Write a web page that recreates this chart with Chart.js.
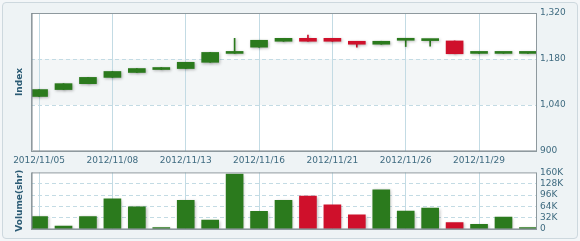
<!DOCTYPE html>
<html>
<head>
<meta charset="utf-8">
<script src="https://cdn.jsdelivr.net/npm/chart.js@4"></script>
<style>
  html, body { margin: 0; padding: 0; background: #f3f6f8; }
  #wrap { position: relative; width: 580px; height: 241px; overflow: hidden; }
  #frame { position: absolute; left: 2px; top: 2px; width: 574px; height: 235px;
           border: 1px solid #cdd8de; border-radius: 4px; background: #eef3f5; }
  .box { position: absolute; left: 0; }
</style>
</head>
<body>
<div id="wrap">
  <div id="frame"></div>
  <div class="box" style="top:0"><canvas id="price" width="580" height="170"></canvas></div>
  <div class="box" style="top:163px"><canvas id="vol" width="580" height="78"></canvas></div>
</div>
<script>
const dates = ['2012/11/05','2012/11/06','2012/11/07','2012/11/08','2012/11/09','2012/11/12','2012/11/13',
  '2012/11/14','2012/11/15','2012/11/16','2012/11/19','2012/11/20','2012/11/21','2012/11/22','2012/11/23',
  '2012/11/26','2012/11/27','2012/11/28','2012/11/29','2012/11/30','2012/12/03']
const open  = [1066,1087,1105,1124,1139,1148,1151,1170,1197,1216,1234,1243,1243,1234,1225,1237,1236,1235,1197,1197,1197]
const close = [1087,1105,1124,1142,1151,1154,1170,1200,1197,1237,1243,1234,1234,1225,1234,1237,1236,1196,1197,1197,1197]
const high  = [1087,1105,1124,1142,1151,1154,1170,1200,1243,1237,1243,1253,1243,1234,1234,1237,1236,1235,1197,1197,1197]
const low   = [1066,1087,1105,1124,1139,1148,1151,1170,1197,1216,1234,1234,1234,1216,1225,1218,1219,1196,1197,1197,1197]
const volume = [35000,8000,35000,85000,63000,4000,81000,25000,155000,50000,81000,93000,68000,40000,111000,
  51000,59000,18000,13000,34000,4000]
const labelIdx = [0,3,6,9,12,15,18]
const priceTicks = { min: 900, max: 1320, step: 140 }
const volTicks = { min: 0, max: 160000, step: 32000 }

const GREEN = '#2b7a1d'
const RED = '#cf102b'
const colors = close.map((c, i) => c < open[i] ? RED : GREEN)
const tickColor = '#3f6b80'
const gridColor = '#c3dbe4'
const font = { family: 'DejaVu Sans', size: 9 }
const titleFont = { family: 'DejaVu Sans', size: 9, weight: 'bold' }

const plotBg = {
  id: 'plotBg',
  beforeDraw(chart, args, opts) {
    const { ctx, chartArea: a } = chart
    ctx.save()
    ctx.fillStyle = '#ffffff'
    ctx.fillRect(a.left, a.top, a.right - a.left, a.bottom - a.top)
    if (opts.band) {
      const y = chart.scales.y
      const y1 = y.getPixelForValue(opts.band[1]), y0 = y.getPixelForValue(opts.band[0])
      ctx.fillStyle = '#f3f6f7'
      ctx.fillRect(a.left, y1, a.right - a.left, y0 - y1)
    }
    ctx.restore()
  },
  beforeDatasetsDraw(chart) {
    const ctx = chart.ctx
    ctx.save()
    ctx.shadowColor = 'rgba(0,0,0,0.28)'
    ctx.shadowBlur = 3
    ctx.shadowOffsetX = 1
    ctx.shadowOffsetY = 1
  },
  afterDatasetsDraw(chart) {
    const { ctx, chartArea: a } = chart
    ctx.restore()
    ctx.save()
    ctx.strokeStyle = '#8e999e'
    ctx.lineWidth = 1
    ctx.strokeRect(a.left + 0.5, a.top + 0.5, a.right - a.left, a.bottom - a.top)
    ctx.strokeStyle = 'rgba(120,132,138,0.5)'
    ctx.beginPath()
    ctx.moveTo(a.left + 1.5, a.top)
    ctx.lineTo(a.left + 1.5, a.bottom - 0.5)
    ctx.lineTo(a.right, a.bottom - 0.5)
    ctx.stroke()
    ctx.restore()
  }
}

function xScale(showLabels) {
  return {
    type: 'linear',
    offset: false,
    min: -0.33,
    max: dates.length - 1 + 0.33,
    afterBuildTicks: s => { s.ticks = labelIdx.map(v => ({ value: v })) },
    afterFit: s => { s.height = showLabels ? 19 : 12 },
    ticks: { display: showLabels, color: tickColor, font: font, padding: 4, maxRotation: 0,
             autoSkip: false, callback: v => dates[v] },
    grid: { color: gridColor, drawTicks: false, offset: false },
    border: { display: false }
  }
}

function yScale(t, fmt) {
  return {
    position: 'right',
    min: t.min,
    max: t.max,
    afterFit: s => { s.width = 44 },
    ticks: { stepSize: t.step, autoSkip: false, color: tickColor, font: font, padding: 4, callback: fmt },
    grid: {
      drawTicks: false,
      color: c => (c.tick.value === t.min || c.tick.value === t.max) ? 'transparent' : gridColor
    },
    border: { display: false, dash: [4, 3] }
  }
}

function titleScale(text) {
  return {
    type: 'linear',
    position: 'left',
    afterFit: s => { s.width = 31 },
    ticks: { display: false },
    grid: { display: false },
    border: { display: false },
    title: { display: true, text: text, color: '#2b5b74', font: titleFont, padding: { top: 14, bottom: 0 } }
  }
}

const common = {
  responsive: false,
  animation: false,
  devicePixelRatio: 1,
  plugins: { legend: { display: false }, tooltip: { enabled: false } }
}

new Chart(document.getElementById('price'), {
  type: 'bar',
  data: {
    datasets: [{
      label: 'wick',
      data: dates.map((d, i) => ({ x: i, y: [low[i], high[i]] })),
      backgroundColor: colors,
      barThickness: 1,
      grouped: false,
      xAxisID: 'x',
      yAxisID: 'y',
      order: 1
    }, {
      label: 'body',
      data: dates.map((d, i) => ({ x: i, y: [open[i], close[i]] })),
      backgroundColor: colors,
      barThickness: 17,
      minBarLength: 2,
      grouped: false,
      xAxisID: 'x',
      yAxisID: 'y',
      order: 0
    }]
  },
  options: {
    ...common,
    layout: { padding: { top: 13, left: 0, right: 0, bottom: 0 } },
    plugins: { ...common.plugins, plotBg: { band: [1040, 1180] } },
    scales: {
      x: xScale(true),
      y: yScale(priceTicks, v => v.toLocaleString('en-US')),
      yt: titleScale('Index')
    }
  },
  plugins: [plotBg]
})

new Chart(document.getElementById('vol'), {
  type: 'bar',
  data: {
    datasets: [{
      label: 'Volume',
      data: dates.map((d, i) => ({ x: i, y: volume[i] })),
      backgroundColor: colors,
      barThickness: 17,
      grouped: false,
      xAxisID: 'x',
      yAxisID: 'y'
    }]
  },
  options: {
    ...common,
    layout: { padding: { top: 7, left: 0, right: 0, bottom: 0 } },
    plugins: { ...common.plugins, plotBg: {} },
    scales: {
      x: xScale(false),
      y: yScale(volTicks, v => v === 0 ? '0' : (v / 1000) + 'K'),
      yt: titleScale('Volume(shr)')
    }
  },
  plugins: [plotBg]
})
</script>
</body>
</html>
